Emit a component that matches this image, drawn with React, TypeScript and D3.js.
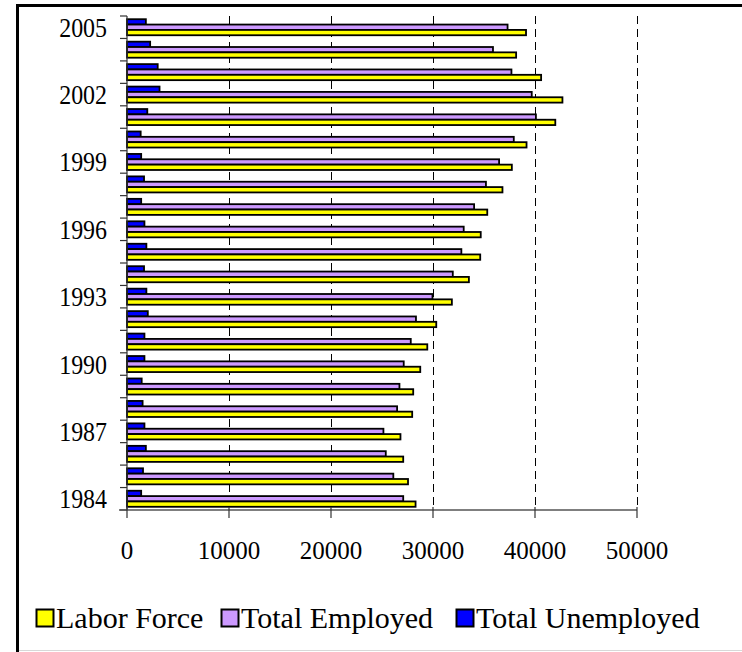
import React, { useEffect, useRef } from 'react';
import * as d3 from 'd3';

const years = [1984, 1985, 1986, 1987, 1988, 1989, 1990, 1991, 1992, 1993, 1994,
  1995, 1996, 1997, 1998, 1999, 2000, 2001, 2002, 2003, 2004, 2005];
const laborForce = [28290, 27550, 27080, 26810, 27960, 28060, 28750, 29440, 30320, 31850, 33520,
  34630, 34680, 35320, 36810, 37730, 39170, 41990, 42690, 40600, 38150, 39120];
const totalEmployed = [27080, 26110, 25370, 25140, 26480, 26710, 27130, 27820, 28330, 29950, 31940,
  32780, 33010, 34030, 35190, 36480, 37920, 40090, 39680, 37690, 35880, 37310];
const totalUnemployed = [1390, 1570, 1850, 1710, 1530, 1440, 1710, 1710, 2040, 1900, 1670,
  1900, 1710, 1390, 1670, 1390, 1340, 1990, 3190, 3010, 2270, 1850];
const xTicks = [0, 10000, 20000, 30000, 40000, 50000];
const labeledYears = [1984, 1987, 1990, 1993, 1996, 1999, 2002, 2005];

const series = [
  { key: 'Total Unemployed', values: totalUnemployed, color: '#0000FF' },
  { key: 'Total Employed', values: totalEmployed, color: '#CC99FF' },
  { key: 'Labor Force', values: laborForce, color: '#FFFF00' },
];
const legendOrder = ['Labor Force', 'Total Employed', 'Total Unemployed'];

const FONT = "'Liberation Serif', 'Times New Roman', 'DejaVu Serif', serif";

const App: React.FC = () => {
  const svgRef = useRef<SVGSVGElement>(null);

  useEffect(() => {
    if (!svgRef.current) return;
    const width = 742;
    const height = 652;
    const plot = { left: 127, right: 637, top: 16, bottom: 510 };

    const svg = d3.select(svgRef.current);
    svg.selectAll('*').remove();

    svg.append('rect').attr('width', width).attr('height', height).attr('fill', 'white');

    // frame
    svg.append('line').attr('x1', 16).attr('x2', width).attr('y1', 5.5).attr('y2', 5.5)
      .attr('stroke', 'black').attr('stroke-width', 3);
    svg.append('line').attr('x1', 17.5).attr('x2', 17.5).attr('y1', 4).attr('y2', height)
      .attr('stroke', 'black').attr('stroke-width', 3);
    svg.append('line').attr('x1', 19).attr('x2', width).attr('y1', 650.5).attr('y2', 650.5)
      .attr('stroke', '#d8d8d8').attr('stroke-width', 1);

    const x = d3.scaleLinear().domain([0, 50000]).range([plot.left, plot.right]);
    const y = d3.scaleBand<number>()
      .domain([...years].reverse())
      .range([plot.top, plot.bottom])
      .padding(0);
    const inner = d3.scaleBand<string>()
      .domain(series.map(s => s.key))
      .range([0, y.bandwidth()])
      .paddingInner(0)
      .paddingOuter(0.6);

    // gridlines
    svg.append('g')
      .selectAll('line')
      .data(xTicks.filter(t => t > 0))
      .enter().append('line')
      .attr('x1', d => x(d) + 0.5).attr('x2', d => x(d) + 0.5)
      .attr('y1', plot.top).attr('y2', plot.bottom)
      .attr('stroke', 'black').attr('stroke-width', 1)
      .attr('stroke-dasharray', '8,5');

    // bars
    const groups = svg.append('g')
      .selectAll('g')
      .data(years)
      .enter().append('g')
      .attr('transform', d => `translate(0,${y(d)})`);

    groups.selectAll('rect')
      .data((yr, i) => series.map(s => ({ key: s.key, color: s.color, value: s.values[i] })))
      .enter().append('rect')
      .attr('x', x(0))
      .attr('y', d => inner(d.key) as number)
      .attr('width', d => x(d.value) - x(0))
      .attr('height', inner.bandwidth())
      .attr('fill', d => d.color)
      .attr('stroke', 'black')
      .attr('stroke-width', 1.8);

    // y axis
    svg.append('line')
      .attr('x1', plot.left).attr('x2', plot.left)
      .attr('y1', plot.top).attr('y2', plot.bottom)
      .attr('stroke', '#333').attr('stroke-width', 1.2);
    const boundaries = [...years.map(yr => y(yr) as number), plot.bottom];
    svg.append('g')
      .selectAll('line')
      .data(boundaries)
      .enter().append('line')
      .attr('x1', plot.left - 7).attr('x2', plot.left)
      .attr('y1', d => d).attr('y2', d => d)
      .attr('stroke', '#333').attr('stroke-width', 1.2);

    svg.append('g')
      .selectAll('text')
      .data(labeledYears)
      .enter().append('text')
      .attr('transform', d => `translate(107,${(y(d) as number) + y.bandwidth() / 2}) scale(0.92,1.04)`)
      .attr('dy', '0.35em')
      .attr('text-anchor', 'end')
      .style('font-family', FONT)
      .style('font-size', '26px')
      .attr('fill', 'black')
      .text(d => String(d));

    // x axis
    svg.append('line')
      .attr('x1', plot.left - 8).attr('x2', plot.right)
      .attr('y1', plot.bottom).attr('y2', plot.bottom)
      .attr('stroke', '#555').attr('stroke-width', 1.5);
    svg.append('g')
      .selectAll('line')
      .data(xTicks)
      .enter().append('line')
      .attr('x1', d => x(d)).attr('x2', d => x(d))
      .attr('y1', plot.bottom - 3).attr('y2', plot.bottom + 8)
      .attr('stroke', '#333').attr('stroke-width', 1.2);
    svg.append('g')
      .selectAll('text')
      .data(xTicks)
      .enter().append('text')
      .attr('x', d => x(d))
      .attr('y', 559)
      .attr('text-anchor', 'middle')
      .style('font-family', FONT)
      .style('font-size', '25px')
      .attr('fill', 'black')
      .text(d => String(d));

    // legend
    const legendX = [36, 221, 456];
    const legend = svg.append('g');
    legendOrder.forEach((name, i) => {
      const s = series.find(v => v.key === name)!;
      const g = legend.append('g').attr('transform', `translate(${legendX[i]},0)`);
      g.append('rect')
        .attr('x', 0.5).attr('y', 609.5)
        .attr('width', 17).attr('height', 17)
        .attr('fill', s.color)
        .attr('stroke', 'black').attr('stroke-width', 2);
      g.append('text')
        .attr('x', 20).attr('y', 628)
        .style('font-family', FONT)
        .style('font-size', '30px')
        .attr('fill', 'black')
        .text(name);
    });
  }, []);

  return (
    <div style={{ position: 'absolute', left: 0, top: 0 }}>
      <svg ref={svgRef} width={742} height={652} style={{ display: 'block' }} />
    </div>
  );
};

export default App;
